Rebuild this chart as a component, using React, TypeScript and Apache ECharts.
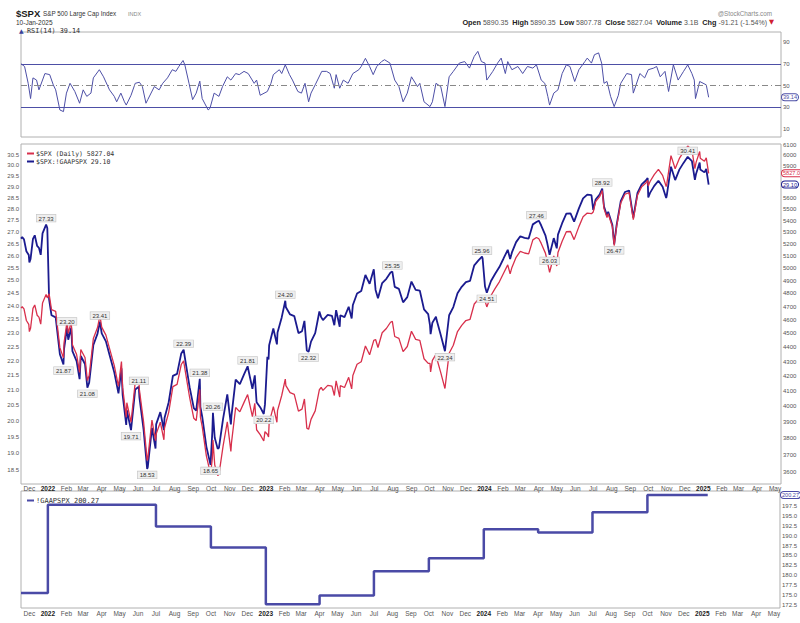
import React, { useEffect, useRef } from 'react';
import * as echarts from 'echarts';

const SANS = 'Liberation Sans, Arial, sans-serif';
const MONO = 'DejaVu Sans Mono, monospace';
const RED = '#d8304c';
const NAVY = '#1b1b8f';
const RSI_C = '#4d4fa6';
const EPS_C = '#4a4aa6';
const BORDER = '#b0b0b0';

// ---- Price / ratio data ----
const dates = [
  '2021-11-17','2021-11-19','2021-11-22','2021-11-26','2021-11-30','2021-12-01','2021-12-03','2021-12-07','2021-12-10','2021-12-14',
  '2021-12-17','2021-12-20','2021-12-23','2021-12-29','2021-12-31','2022-01-03','2022-01-07','2022-01-14','2022-01-21','2022-01-27',
  '2022-01-28','2022-02-02','2022-02-04','2022-02-09','2022-02-11','2022-02-18','2022-02-23','2022-02-25','2022-03-04','2022-03-08',
  '2022-03-11','2022-03-18','2022-03-25','2022-03-29','2022-04-01','2022-04-08','2022-04-14','2022-04-22','2022-04-29','2022-05-04',
  '2022-05-06','2022-05-12','2022-05-13','2022-05-20','2022-05-27','2022-06-02','2022-06-03','2022-06-10','2022-06-16','2022-06-17',
  '2022-06-24','2022-06-30','2022-07-01','2022-07-08','2022-07-14','2022-07-15','2022-07-22','2022-07-29','2022-08-05','2022-08-12',
  '2022-08-16','2022-08-19','2022-08-26','2022-09-02','2022-09-06','2022-09-12','2022-09-13','2022-09-16','2022-09-23','2022-09-30',
  '2022-10-03','2022-10-04','2022-10-07','2022-10-12','2022-10-14','2022-10-21','2022-10-28','2022-11-03','2022-11-04','2022-11-11',
  '2022-11-18','2022-11-25','2022-12-01','2022-12-09','2022-12-13','2022-12-16','2022-12-22','2022-12-28','2022-12-30','2023-01-03',
  '2023-01-05','2023-01-06','2023-01-13','2023-01-19','2023-01-20','2023-01-27','2023-02-02','2023-02-03','2023-02-10','2023-02-17',
  '2023-02-24','2023-03-02','2023-03-06','2023-03-10','2023-03-13','2023-03-17','2023-03-24','2023-03-31','2023-04-03','2023-04-06',
  '2023-04-14','2023-04-21','2023-04-25','2023-04-28','2023-05-04','2023-05-05','2023-05-12','2023-05-19','2023-05-24','2023-05-26',
  '2023-06-02','2023-06-09','2023-06-16','2023-06-23','2023-06-30','2023-07-03','2023-07-07','2023-07-14','2023-07-21','2023-07-28',
  '2023-07-31','2023-08-04','2023-08-11','2023-08-18','2023-08-25','2023-09-01','2023-09-08','2023-09-15','2023-09-22','2023-09-29',
  '2023-10-02','2023-10-03','2023-10-06','2023-10-12','2023-10-13','2023-10-20','2023-10-27','2023-11-03','2023-11-10','2023-11-17',
  '2023-11-24','2023-12-01','2023-12-08','2023-12-15','2023-12-22','2023-12-28','2023-12-29','2024-01-02','2024-01-05','2024-01-12',
  '2024-01-19','2024-01-26','2024-02-02','2024-02-09','2024-02-13','2024-02-16','2024-02-23','2024-03-01','2024-03-08','2024-03-15',
  '2024-03-22','2024-03-28','2024-04-01','2024-04-05','2024-04-12','2024-04-15','2024-04-19','2024-04-26','2024-05-01','2024-05-03',
  '2024-05-10','2024-05-17','2024-05-24','2024-05-30','2024-06-07','2024-06-14','2024-06-21','2024-06-28','2024-07-01','2024-07-05',
  '2024-07-12','2024-07-16','2024-07-19','2024-07-24','2024-07-26','2024-08-02','2024-08-05','2024-08-09','2024-08-16','2024-08-23',
  '2024-08-30','2024-09-06','2024-09-13','2024-09-20','2024-09-27','2024-09-30','2024-10-01','2024-10-04','2024-10-11','2024-10-18',
  '2024-10-25','2024-10-31','2024-11-01','2024-11-08','2024-11-15','2024-11-22','2024-11-29','2024-12-06','2024-12-13','2024-12-18',
  '2024-12-20','2024-12-26','2024-12-27','2025-01-03','2025-01-06','2025-01-10',
];

const spxClose = [
  4688,4698,4682,4595,4567,4513,4538,4686,4712,4634,
  4620,4568,4726,4793,4766,4797,4677,4663,4398,4326,
  4432,4589,4500,4587,4419,4349,4226,4385,4329,4170,
  4204,4463,4543,4631,4546,4488,4393,4272,4132,4300,
  4123,3930,4024,3899,4158,4176,4109,3901,3666,3675,
  3912,3785,3825,3899,3790,3863,3962,4130,4145,4280,
  4305,4228,4058,3924,3909,4111,3932,3873,3693,3586,
  3678,3789,3640,3577,3583,3753,3901,3720,3771,3993,
  3965,4026,4077,3934,4020,3852,3822,3783,3840,3824,
  3808,3895,3999,3899,3973,4071,4180,4136,4090,4079,
  3970,3982,4048,3862,3855,3917,3971,4109,4125,4105,
  4138,4133,4071,4169,4061,4136,4124,4192,4115,4205,
  4282,4299,4410,4348,4450,4456,4399,4505,4536,4582,
  4589,4478,4464,4370,4406,4516,4457,4450,4320,4288,
  4288,4229,4308,4350,4327,4224,4117,4358,4415,4514,
  4559,4595,4604,4719,4755,4783,4770,4743,4697,4784,
  4840,4891,4959,5027,4954,5006,5089,5137,5124,5117,
  5234,5254,5243,5204,5123,5061,4967,5100,5018,5128,
  5223,5303,5305,5236,5347,5432,5465,5460,5475,5567,
  5615,5667,5505,5427,5459,5346,5186,5344,5554,5634,
  5648,5408,5626,5703,5738,5762,5709,5751,5815,5864,
  5808,5705,5729,5996,5870,5969,6032,6090,6051,5872,
  5931,6037,5971,5942,5975,5827.04,
];

const peRatio = [
  26.71,26.77,26.68,26.18,26.02,25.72,25.86,26.70,26.85,26.40,
  26.32,26.03,26.93,27.31,27.16,24.25,23.65,23.57,22.23,21.87,
  22.41,23.20,22.75,23.19,22.34,21.99,21.37,22.17,21.89,21.08,
  21.25,22.56,22.97,23.41,22.98,22.69,22.21,21.60,20.89,21.74,
  20.84,19.87,20.34,19.71,21.02,21.11,20.77,19.72,18.53,18.58,
  19.78,19.14,19.89,20.28,19.71,20.09,20.60,21.48,21.55,22.26,
  22.39,21.99,21.10,20.41,20.33,21.38,20.45,20.14,19.20,18.65,
  19.67,20.26,19.47,19.13,19.16,20.07,20.86,19.89,20.17,21.35,
  21.20,21.53,21.81,21.04,21.50,20.60,20.44,20.22,20.53,22.14,
  22.05,22.55,23.16,22.58,23.01,23.57,24.20,23.95,23.68,23.62,
  22.99,23.06,23.44,22.36,22.32,22.68,22.99,23.79,23.58,23.47,
  23.66,23.63,23.28,23.84,23.22,23.65,23.58,23.97,23.53,24.04,
  24.48,24.58,25.21,24.86,25.44,24.62,24.30,24.89,25.06,25.31,
  25.35,24.74,24.66,24.14,24.34,24.95,24.62,24.59,23.87,23.69,
  23.27,22.95,23.37,23.60,23.48,22.92,22.34,23.65,23.96,24.49,
  24.74,24.93,24.98,25.60,25.80,25.96,25.88,24.75,24.51,24.97,
  25.26,25.53,25.88,26.24,25.86,26.13,26.56,26.81,26.74,26.71,
  27.32,27.42,27.48,27.27,26.85,26.53,26.03,26.73,26.30,26.88,
  27.37,27.79,27.80,27.44,28.02,28.47,28.64,28.62,27.95,28.42,
  28.66,28.92,28.10,27.70,27.87,27.29,26.47,27.28,28.35,28.76,
  28.83,27.61,28.72,29.11,29.29,29.41,28.51,28.72,29.04,29.28,
  29.00,28.49,28.61,29.94,29.31,29.80,30.12,30.41,30.21,29.32,
  29.61,30.14,29.81,29.67,29.83,29.10,
];

// Peak / trough annotations on the ratio line
const peakDates = ['2021-12-29','2022-01-27','2022-02-02','2022-03-08','2022-03-29','2022-05-20','2022-06-02','2022-06-16','2022-08-16','2022-09-12','2022-09-30','2022-10-04','2022-12-01','2022-12-28','2023-02-02','2023-03-13','2023-07-31','2023-10-27','2023-12-28','2024-01-05','2024-03-28','2024-04-19','2024-07-16','2024-08-05','2024-12-06'];
const peakValues = [27.33,21.87,23.20,21.08,23.41,19.71,21.11,18.53,22.39,21.38,18.65,20.26,21.81,20.22,24.20,22.32,25.35,22.34,25.96,24.51,27.46,26.03,28.92,26.47,30.41];
const peakSides = ['top','bottom','top','bottom','top','bottom','top','bottom','top','top','bottom','top','top','bottom','top','bottom','top','bottom','top','bottom','top','bottom','top','bottom','top'];

// ---- GAAP EPS (step) ----
const epsDates = ['2021-11-17','2022-01-01','2022-07-01','2022-10-01','2023-01-01','2023-04-01','2023-07-01','2023-10-01','2024-01-01','2024-04-01','2024-07-01','2024-10-01','2025-01-10'];
const epsValues = [175.5,197.8,192.3,187.0,172.7,174.9,181.0,184.3,191.6,190.8,195.9,200.27,200.27];

// ---- RSI(14) ----
const rsiDates = [
  '2021-11-17','2021-11-23','2021-11-29','2021-12-03','2021-12-07','2021-12-13','2021-12-17','2021-12-27','2022-01-04','2022-01-10',
  '2022-01-14','2022-01-21','2022-01-27','2022-02-01','2022-02-07','2022-02-15','2022-02-23','2022-03-01','2022-03-07','2022-03-14',
  '2022-03-18','2022-03-28','2022-04-04','2022-04-14','2022-04-22','2022-04-26','2022-05-03','2022-05-09','2022-05-12','2022-05-20',
  '2022-05-27','2022-06-03','2022-06-08','2022-06-14','2022-06-17','2022-06-28','2022-07-06','2022-07-12','2022-07-20','2022-07-28',
  '2022-08-03','2022-08-08','2022-08-15','2022-08-18','2022-08-25','2022-08-31','2022-09-06','2022-09-12','2022-09-16','2022-09-26',
  '2022-09-29','2022-10-06','2022-10-14','2022-10-20','2022-10-28','2022-11-03','2022-11-11','2022-11-17','2022-11-25','2022-12-02',
  '2022-12-12','2022-12-16','2022-12-22','2023-01-03','2023-01-09','2023-01-13','2023-01-23','2023-01-27','2023-02-02','2023-02-09',
  '2023-02-14','2023-02-23','2023-03-01','2023-03-07','2023-03-13','2023-03-17','2023-03-24','2023-04-04','2023-04-12','2023-04-18',
  '2023-04-25','2023-04-28','2023-05-04','2023-05-10','2023-05-18','2023-05-26','2023-06-05','2023-06-09','2023-06-16','2023-06-23',
  '2023-06-29','2023-07-05','2023-07-13','2023-07-18','2023-07-27','2023-08-04','2023-08-11','2023-08-18','2023-08-25','2023-09-01',
  '2023-09-11','2023-09-15','2023-09-22','2023-10-02','2023-10-06','2023-10-12','2023-10-20','2023-10-27','2023-11-03','2023-11-10',
  '2023-11-20','2023-11-29','2023-12-07','2023-12-15','2023-12-21','2023-12-27','2024-01-02','2024-01-05','2024-01-15','2024-01-23',
  '2024-01-29','2024-02-05','2024-02-09','2024-02-16','2024-02-26','2024-03-05','2024-03-13','2024-03-22','2024-03-28','2024-04-05',
  '2024-04-11','2024-04-16','2024-04-19','2024-04-26','2024-05-03','2024-05-10','2024-05-17','2024-05-23','2024-05-31','2024-06-07',
  '2024-06-17','2024-06-21','2024-06-28','2024-07-03','2024-07-10','2024-07-15','2024-07-19','2024-07-24','2024-07-30','2024-08-05',
  '2024-08-12','2024-08-16','2024-08-26','2024-09-03','2024-09-06','2024-09-17','2024-09-25','2024-10-01','2024-10-10','2024-10-15',
  '2024-10-21','2024-10-29','2024-11-04','2024-11-12','2024-11-20','2024-11-29','2024-12-06','2024-12-13','2024-12-17','2024-12-19',
  '2024-12-26','2025-01-06','2025-01-10',
];
const rsiValues = [
  70,67.5,52,38,57,55,46,61,60,50.6,
  46,27.5,26,43,52,44.5,33.7,46,40,43,
  57,64.5,58,46,40,35,43,35,32,41,
  52,53,49,33.7,37,49,46,52,57,64.5,
  63,67.5,73,69,52,37,43,54,38,27.5,
  29,43,40,49,58,55,61,60,63,61,
  52,55,41,44.5,52,60,64.5,61,69,60,
  55,44.5,43,52,35,43,50.6,63,63,61,
  47.5,60,47.5,55,52,61,64.5,67.5,75,67.5,
  60,67.5,72,73.7,70.6,55,49,35,43,58,
  49,52,35,30.6,35,52,49,30.6,58,63,
  70.6,72,66,76.8,81.4,72,70.6,55,63,70.6,
  75.2,61,72,64.5,67.5,61,67.5,66,69,55,
  52,40,32,43,46,61,69,67.5,53.7,64.5,
  72,75.2,70.6,78.3,80,70.6,52,53.7,40,30.6,
  41,52,61,60,43,61,57,64.5,66,67.5,
  58,63,44.5,69,55,63,69,61,55,38,
  53.7,50.6,39.14,
];

// ---- Axis ticks (5800 / 5700 sit under the value tags, as in the reference) ----
const rsiTicks = [10, 30, 50, 70, 90];
const peTicks = [18.5,19.0,19.5,20.0,20.5,21.0,21.5,22.0,22.5,23.0,23.5,24.0,24.5,25.0,25.5,26.0,26.5,27.0,27.5,28.0,28.5,29.0,29.5,30.0,30.5];
const spxTicks = [3600,3700,3800,3900,4000,4100,4200,4300,4400,4500,4600,4700,4800,4900,5000,5100,5200,5300,5400,5500,5600,5900,6000,6100];
const epsTicks = [172.5,175.0,177.5,180.0,182.5,185.0,187.5,190.0,192.5,195.0,197.5];
const monthNames = ['Jan','Feb','Mar','Apr','May','Jun','Jul','Aug','Sep','Oct','Nov','Dec'];
const firstMonth = [2021, 11];
const lastMonth = [2025, 4];
const xRange = ['2021-11-17', '2025-05-11'];

const ts = (d: string) => {
  const [y, m, day] = d.split('-').map(Number);
  return new Date(y, m - 1, day).getTime();
};

export default function App() {
  const ref = useRef<HTMLDivElement>(null);

  useEffect(() => {
    const chart = echarts.init(ref.current!, null, { renderer: 'svg' });

    const monthTicks: number[] = [];
    {
      let y = firstMonth[0];
      let m = firstMonth[1];
      while (y < lastMonth[0] || (y === lastMonth[0] && m <= lastMonth[1])) {
        monthTicks.push(new Date(y, m, 1).getTime());
        m++;
        if (m > 11) { m = 0; y++; }
      }
    }
    const X_MIN = ts(xRange[0]);
    const X_MAX = ts(xRange[1]);

    const fmtMonth = (v: number) => {
      const d = new Date(v);
      return d.getMonth() === 0 ? `{y|${d.getFullYear()}}` : monthNames[d.getMonth()];
    };

    const xAxis = (gridIndex: number, show: boolean, margin: number) => ({
      type: 'value',
      gridIndex,
      min: X_MIN,
      max: X_MAX,
      axisLine: { show: false },
      axisTick: { show: false },
      splitLine: { show: false },
      axisLabel: {
        show,
        customValues: monthTicks,
        formatter: fmtMonth,
        fontSize: 6.5,
        color: '#555',
        fontFamily: SANS,
        margin,
        hideOverlap: false,
        showMinLabel: true,
        showMaxLabel: true,
        rich: { y: { fontWeight: 'bold', color: '#222', fontSize: 6.5, fontFamily: SANS } },
      },
    });

    const yLabel = (ticks: number[], fmt: (v: number) => string) => ({
      customValues: ticks,
      formatter: fmt,
      fontSize: 6,
      color: '#555',
      fontFamily: SANS,
      margin: 2,
    });

    const tag = (value: number, text: string, color: string) => ({
      yAxis: value,
      lineStyle: { width: 0, color: 'rgba(0,0,0,0)' },
      label: {
        show: true,
        position: 'end',
        formatter: text,
        color,
        fontSize: 5.6,
        fontFamily: SANS,
        backgroundColor: '#fff',
        borderColor: color,
        borderWidth: 1,
        borderRadius: 3,
        padding: [0, 1, 0, 1],
        distance: 1,
      },
    });

    const option: any = {
      animation: false,
      backgroundColor: '#fff',
      textStyle: { fontFamily: SANS },
      grid: [
        { left: 21, right: 19, top: 32, height: 105, show: true, borderColor: BORDER, borderWidth: 1, backgroundColor: 'transparent' },
        { left: 21, right: 19, top: 144, height: 340, show: true, borderColor: BORDER, borderWidth: 1, backgroundColor: 'transparent' },
        { left: 21, right: 19, top: 491, height: 117, show: true, borderColor: BORDER, borderWidth: 1, backgroundColor: 'transparent' },
      ],
      xAxis: [xAxis(0, false, 0), xAxis(1, true, 1), xAxis(2, true, 2)],
      yAxis: [
        {
          type: 'value', gridIndex: 0, position: 'right', min: 2.64, max: 99.2,
          axisLine: { show: false }, axisTick: { show: false }, splitLine: { show: false },
          axisLabel: yLabel(rsiTicks, (v) => String(v)),
        },
        {
          type: 'log', gridIndex: 1, position: 'left', min: 18.093, max: 31.037,
          axisLine: { show: false }, axisTick: { show: false }, splitLine: { show: false },
          axisLabel: yLabel(peTicks, (v) => v.toFixed(1)),
        },
        {
          type: 'log', gridIndex: 1, position: 'right', min: 3529, max: 6110,
          axisLine: { show: false }, axisTick: { show: false }, splitLine: { show: false },
          axisLabel: yLabel(spxTicks, (v) => String(Math.round(v))),
        },
        {
          type: 'value', gridIndex: 2, position: 'right', min: 171.74, max: 201.29,
          axisLine: { show: false }, axisTick: { show: false }, splitLine: { show: false },
          axisLabel: yLabel(epsTicks, (v) => v.toFixed(1)),
        },
      ],
      legend: [
        {
          data: ['$SPX (Daily) 5827.04', '$SPX:!GAAPSPX 29.10'],
          left: 22, top: 145, orient: 'vertical', itemWidth: 7, itemHeight: 2, itemGap: 1,
          icon: 'rect', selectedMode: false,
          textStyle: { fontSize: 6.5, fontFamily: MONO, color: '#333', padding: [0, 0, 0, -3] },
        },
        {
          data: ['!GAAPSPX 200.27'],
          left: 22, top: 492, orient: 'vertical', itemWidth: 7, itemHeight: 2,
          icon: 'rect', selectedMode: false,
          textStyle: { fontSize: 7, fontFamily: MONO, color: '#333', padding: [0, 0, 0, -3] },
        },
      ],
      series: [
        {
          name: 'RSI(14)',
          type: 'line',
          xAxisIndex: 0,
          yAxisIndex: 0,
          data: rsiDates.map((d, i) => [ts(d), rsiValues[i]]),
          showSymbol: false,
          lineStyle: { color: RSI_C, width: 1 },
          itemStyle: { color: RSI_C },
          markLine: {
            silent: true,
            symbol: ['none', 'none'],
            label: { show: false },
            data: [
              { yAxis: 70, lineStyle: { color: RSI_C, width: 1, type: 'solid' } },
              { yAxis: 30, lineStyle: { color: RSI_C, width: 1, type: 'solid' } },
              { yAxis: 50, lineStyle: { color: '#888', width: 1, type: [6, 3, 1, 3] } },
              tag(39.14, '39.14', RSI_C),
            ],
          },
        },
        {
          name: '$SPX:!GAAPSPX 29.10',
          type: 'line',
          xAxisIndex: 1,
          yAxisIndex: 1,
          data: dates.map((d, i) => [ts(d), peRatio[i]]),
          showSymbol: false,
          lineStyle: { color: NAVY, width: 1.8 },
          itemStyle: { color: NAVY },
          z: 2,
          markPoint: {
            silent: true,
            symbol: 'circle',
            symbolSize: 1,
            itemStyle: { color: 'rgba(0,0,0,0)' },
            data: peakDates.map((d, i) => ({
              coord: [ts(d), peakValues[i]],
              value: peakValues[i],
              label: {
                show: true,
                position: peakSides[i],
                distance: 2,
                formatter: peakValues[i].toFixed(2),
                fontSize: 6,
                fontFamily: SANS,
                color: '#333',
                backgroundColor: '#efefef',
                borderColor: '#c4c4c4',
                borderWidth: 0.6,
                padding: [1, 2, 0, 2],
              },
            })),
          },
          markLine: {
            silent: true,
            symbol: ['none', 'none'],
            data: [tag(29.10, '29.10', NAVY)],
          },
        },
        {
          name: '$SPX (Daily) 5827.04',
          type: 'line',
          xAxisIndex: 1,
          yAxisIndex: 2,
          data: dates.map((d, i) => [ts(d), spxClose[i]]),
          showSymbol: false,
          lineStyle: { color: RED, width: 1.3 },
          itemStyle: { color: RED },
          z: 3,
          markLine: {
            silent: true,
            symbol: ['none', 'none'],
            data: [tag(5827.04, '5827.04', RED)],
          },
        },
        {
          name: '!GAAPSPX 200.27',
          type: 'line',
          step: 'end',
          xAxisIndex: 2,
          yAxisIndex: 3,
          data: epsDates.map((d, i) => [ts(d), epsValues[i]]),
          showSymbol: false,
          lineStyle: { color: EPS_C, width: 2.5 },
          itemStyle: { color: EPS_C },
          markLine: {
            silent: true,
            symbol: ['none', 'none'],
            data: [tag(200.27, '200.27', EPS_C)],
          },
        },
      ],
      graphic: [
        { type: 'text', x: 16, y: 13, style: { text: '$SPX', fontSize: 9.5, fontWeight: 'bold', fontFamily: SANS, fill: '#1a1a1a', verticalAlign: 'middle' } },
        { type: 'text', x: 43, y: 13.5, style: { text: 'S&P 500 Large Cap Index', fontSize: 6.3, fontFamily: SANS, fill: '#333', verticalAlign: 'middle' } },
        { type: 'text', x: 128, y: 13.5, style: { text: 'INDX', fontSize: 5.5, fontFamily: SANS, fill: '#888', verticalAlign: 'middle' } },
        { type: 'text', x: 16, y: 22, style: { text: '10-Jan-2025', fontSize: 6.5, fontFamily: SANS, fill: '#333', verticalAlign: 'middle' } },
        { type: 'text', x: 19, y: 30.5, style: { text: '▲', fontSize: 6, fontFamily: 'DejaVu Sans', fill: '#3a3f9a', verticalAlign: 'middle' } },
        { type: 'text', x: 27, y: 30.5, style: { text: 'RSI(14) 39.14', fontSize: 6.8, fontFamily: MONO, fill: '#333', verticalAlign: 'middle' } },
        { type: 'text', x: 772, y: 13, style: { text: '@StockCharts.com', fontSize: 6.3, fontFamily: SANS, fill: '#888', align: 'right', verticalAlign: 'middle' } },
        {
          type: 'text', x: 774, y: 22,
          style: {
            text: '{b|Open} 5890.35  {b|High} 5890.35  {b|Low} 5807.78  {b|Close} 5827.04  {b|Volume} 3.1B  {b|Chg} -91.21 (-1.54%) {r|▼}',
            fontSize: 7, fontFamily: SANS, fill: '#555', align: 'right', verticalAlign: 'middle',
            rich: {
              b: { fontSize: 7.3, fontWeight: 'bold', fontFamily: SANS, fill: '#222' },
              r: { fontSize: 6.5, fontFamily: 'DejaVu Sans', fill: '#d02030' },
            },
          },
        },
      ],
    };

    chart.setOption(option);
    return () => chart.dispose();
  }, []);

  return (
    <div
      ref={ref}
      style={{ position: 'fixed', left: 0, top: 0, width: 800, height: 623, background: '#fff' }}
    />
  );
}
